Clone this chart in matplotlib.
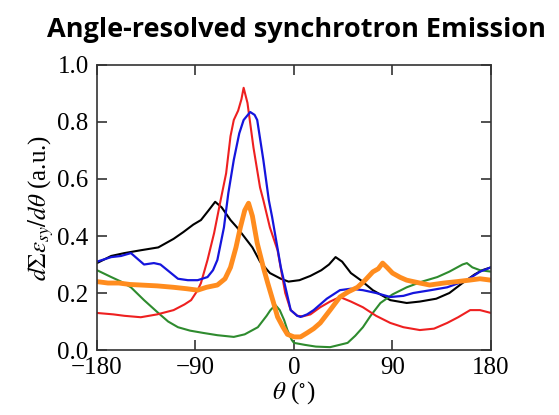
import matplotlib
matplotlib.use('Agg')
import matplotlib.pyplot as plt

plt.rcParams['font.family'] = ['Liberation Serif', 'DejaVu Serif']
plt.rcParams['mathtext.fontset'] = 'stix'

# values (angle in degrees, emission in a.u.)
black_x = [-180, -167, -155, -140, -124, -110, -101, -92, -85, -78, -72, -66, -58, -52, -46, -38,
           -31, -22, -12, -5, 5, 15, 25, 32, 38, 44, 52, 61, 72, 88, 103, 115, 130, 142, 154,
           165, 172, 180]
black_y = [0.305, 0.33, 0.34, 0.35, 0.36, 0.39, 0.414, 0.44, 0.456, 0.49, 0.52, 0.50, 0.456, 0.43,
           0.40, 0.36, 0.31, 0.27, 0.25, 0.24, 0.245, 0.26, 0.28, 0.30, 0.326, 0.31, 0.27, 0.245,
           0.21, 0.175, 0.165, 0.17, 0.18, 0.20, 0.235, 0.265, 0.28, 0.29]

red_x = [-180, -165, -155, -140, -125, -110, -100, -94, -88, -85, -79, -73, -67, -62, -58, -55,
         -51, -48, -46, -42.5, -37, -31, -28, -22, -15, -8, -3, 3, 8, 15, 24, 33, 42, 52, 63, 75,
         88, 100, 115, 128, 140, 150, 161, 170, 180]
red_y = [0.13, 0.125, 0.12, 0.115, 0.125, 0.14, 0.16, 0.175, 0.21, 0.235, 0.316, 0.41, 0.526, 0.62,
         0.75, 0.807, 0.84, 0.88, 0.92, 0.867, 0.71, 0.57, 0.526, 0.43, 0.35, 0.20, 0.14, 0.12,
         0.118, 0.125, 0.15, 0.17, 0.186, 0.17, 0.15, 0.12, 0.095, 0.08, 0.07, 0.075, 0.095,
         0.115, 0.14, 0.14, 0.13]

blue_x = [-180, -167, -158, -149, -143, -137, -128, -122, -114, -106, -97, -88, -79, -74, -70, -64,
          -60, -55, -50, -46, -40, -36, -33.6, -28, -23, -20, -12, -3, 3, 6, 12, 18, 30, 42, 52,
          63, 75, 88, 100, 109, 125, 140, 158, 170, 180]
blue_y = [0.31, 0.326, 0.33, 0.34, 0.32, 0.30, 0.305, 0.30, 0.275, 0.25, 0.245, 0.245, 0.256, 0.28,
          0.316, 0.43, 0.55, 0.667, 0.76, 0.807, 0.835, 0.825, 0.807, 0.667, 0.526, 0.467, 0.29,
          0.14, 0.12, 0.116, 0.125, 0.14, 0.18, 0.21, 0.215, 0.21, 0.20, 0.186, 0.19, 0.20, 0.21,
          0.22, 0.245, 0.275, 0.29]

green_x = [-180, -167, -158, -149, -137, -124, -115, -106, -95, -83, -70, -55, -45, -33, -25, -21.5,
           -17, -13, -9, -6, -2, 0, 10, 20, 33, 49, 56, 63, 70, 79, 90, 103, 117, 131, 142, 154,
           158, 163, 170, 180]
green_y = [0.28, 0.256, 0.24, 0.22, 0.175, 0.13, 0.10, 0.08, 0.068, 0.06, 0.052, 0.046, 0.055, 0.08,
           0.12, 0.14, 0.158, 0.14, 0.105, 0.07, 0.035, 0.025, 0.018, 0.012, 0.01, 0.025, 0.05,
           0.08, 0.12, 0.165, 0.195, 0.22, 0.24, 0.256, 0.275, 0.30, 0.305, 0.29, 0.28, 0.275]

orange_x = [-180, -170, -160, -150, -140, -125, -110, -98, -88, -80, -70, -63, -58, -53, -49, -45,
            -41.5, -38, -33.6, -28, -24, -19, -15, -10, -6, 0, 6, 12, 18, 24, 33, 42, 50, 58, 65,
            72, 77, 81, 85, 90, 97, 103, 115, 124, 137, 149, 160, 170, 180]
orange_y = [0.24, 0.235, 0.235, 0.23, 0.228, 0.225, 0.22, 0.215, 0.21, 0.22, 0.228, 0.25, 0.29,
            0.36, 0.43, 0.49, 0.515, 0.47, 0.375, 0.29, 0.235, 0.17, 0.116, 0.08, 0.055, 0.046,
            0.046, 0.06, 0.075, 0.095, 0.14, 0.186, 0.205, 0.22, 0.245, 0.274, 0.285, 0.305, 0.29,
            0.27, 0.255, 0.245, 0.235, 0.228, 0.235, 0.24, 0.245, 0.25, 0.245]

x_ticks = [-180, -90, 0, 90, 180]
y_ticks = [0.0, 0.2, 0.4, 0.6, 0.8, 1.0]

fig = plt.figure(figsize=(5.59, 4.15), dpi=100)
ax = fig.add_axes([0.1735, 0.1566, 0.7048, 0.6868])

ax.plot(black_x, black_y, color='black', lw=1.5)
ax.plot(green_x, green_y, color='#2e8b2e', lw=1.5)
ax.plot(red_x, red_y, color='#ee2020', lw=1.5)
ax.plot(blue_x, blue_y, color='#1515dd', lw=1.6)
ax.plot(orange_x, orange_y, color='#ff8c1e', lw=3.5)

ax.set_xlim(-180, 180)
ax.set_ylim(0, 1.0)
ax.set_xticks(x_ticks)
ax.set_xticklabels(['\u2212180', '\u221290', '0', '90', '180'])
ax.set_yticks(y_ticks)
ax.set_yticklabels(['%.1f' % v for v in y_ticks])
ax.tick_params(direction='in', top=True, right=True, length=7, width=1.2, labelsize=18,
               color='#333333')
ax.tick_params(axis='x', pad=5)
ax.tick_params(axis='y', pad=6)
for s in ax.spines.values():
    s.set_color('#333333')
    s.set_linewidth(1.2)

ax.set_xlabel(r'$\theta$ ($^{\circ}$)', fontsize=18, labelpad=0)
ax.set_ylabel(r'$d\Sigma\varepsilon_{sy}/d\theta$ (a.u.)', fontsize=18, labelpad=1)

fig.text(0.531, 0.928, 'Angle-resolved synchrotron Emission', ha='center', va='center',
         fontsize=19.5, fontweight='bold', family=['Open Sans', 'DejaVu Sans'])

fig.savefig('out.png', dpi=100)
